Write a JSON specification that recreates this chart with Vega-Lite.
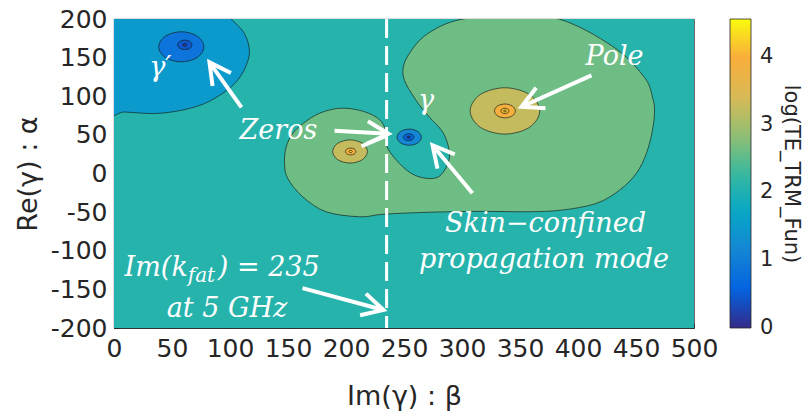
{
  "$schema": "https://vega.github.io/schema/vega-lite/v6.json",
  "width": 580,
  "height": 309,
  "autosize": "none",
  "padding": {"left": 114, "top": 19, "right": 115, "bottom": 86},
  "background": "white",
  "config": {
    "locale": {"number": {"decimal": ".", "thousands": ",", "grouping": [3], "currency": ["$", ""], "minus": "-"}},
    "view": {"stroke": "#262626", "strokeWidth": 0.8},
    "axis": {
      "labelFont": "DejaVu Sans",
      "labelFontSize": 25,
      "labelColor": "#262626",
      "titleFont": "DejaVu Sans",
      "titleFontSize": 27,
      "titleFontWeight": "normal",
      "titleColor": "#262626",
      "domainColor": "#262626",
      "domainWidth": 0.8,
      "tickColor": "#262626",
      "tickSize": -5,
      "tickWidth": 0.8,
      "gridColor": "#202020",
      "gridOpacity": 0.15,
      "gridWidth": 0.8,
      "labelFlush": false,
      "labelOverlap": false,
      "zindex": 1
    },
    "axisX": {"labelPadding": 13, "titlePadding": 22},
    "axisY": {"labelPadding": 12, "titlePadding": 8}
  },
  "datasets": {
    "plane": [{"x": 0, "x2": 500, "y": -200, "y2": 200, "level": 2.08}],
    "contours": [
      {"shape": "ul", "tier": 1, "level": 1.48, "i": 0, "x": -15, "y": 80.5},
      {"shape": "ul", "tier": 1, "level": 1.48, "i": 1, "x": 9.1, "y": 79.6},
      {"shape": "ul", "tier": 1, "level": 1.48, "i": 2, "x": 34.9, "y": 77.6},
      {"shape": "ul", "tier": 1, "level": 1.48, "i": 3, "x": 57.9, "y": 81.8},
      {"shape": "ul", "tier": 1, "level": 1.48, "i": 4, "x": 78, "y": 90.5},
      {"shape": "ul", "tier": 1, "level": 1.48, "i": 5, "x": 95.3, "y": 105.5},
      {"shape": "ul", "tier": 1, "level": 1.48, "i": 6, "x": 106.5, "y": 120.6},
      {"shape": "ul", "tier": 1, "level": 1.48, "i": 7, "x": 114, "y": 140},
      {"shape": "ul", "tier": 1, "level": 1.48, "i": 8, "x": 116.8, "y": 159.5},
      {"shape": "ul", "tier": 1, "level": 1.48, "i": 9, "x": 112.5, "y": 181},
      {"shape": "ul", "tier": 1, "level": 1.48, "i": 10, "x": 103.9, "y": 195.6},
      {"shape": "ul", "tier": 1, "level": 1.48, "i": 11, "x": 95.3, "y": 204.7},
      {"shape": "ul", "tier": 1, "level": 1.48, "i": 12, "x": 60, "y": 225},
      {"shape": "ul", "tier": 1, "level": 1.48, "i": 13, "x": -15, "y": 225},

      {"shape": "gr", "tier": 1, "level": 2.62, "i": 1, "x": 162.8, "y": 64.6},
      {"shape": "gr", "tier": 1, "level": 2.62, "i": 2, "x": 177.2, "y": 78},
      {"shape": "gr", "tier": 1, "level": 2.62, "i": 3, "x": 194.4, "y": 84.4},
      {"shape": "gr", "tier": 1, "level": 2.62, "i": 4, "x": 211.6, "y": 81.8},
      {"shape": "gr", "tier": 1, "level": 2.62, "i": 5, "x": 226.3, "y": 72.8},
      {"shape": "gr", "tier": 1, "level": 2.62, "i": 6, "x": 233.5, "y": 59},
      {"shape": "gr", "tier": 1, "level": 2.62, "i": 7, "x": 235, "y": 36},
      {"shape": "gr", "tier": 1, "level": 2.62, "i": 8, "x": 243.5, "y": 17.2},
      {"shape": "gr", "tier": 1, "level": 2.62, "i": 9, "x": 254.7, "y": 1.7},
      {"shape": "gr", "tier": 1, "level": 2.62, "i": 10, "x": 266, "y": -5.5},
      {"shape": "gr", "tier": 1, "level": 2.62, "i": 11, "x": 278, "y": -5.5},
      {"shape": "gr", "tier": 1, "level": 2.62, "i": 12, "x": 285, "y": 4.3},
      {"shape": "gr", "tier": 1, "level": 2.62, "i": 13, "x": 289.2, "y": 21.1},
      {"shape": "gr", "tier": 1, "level": 2.62, "i": 14, "x": 287.5, "y": 39.2},
      {"shape": "gr", "tier": 1, "level": 2.62, "i": 15, "x": 282.3, "y": 56},
      {"shape": "gr", "tier": 1, "level": 2.62, "i": 16, "x": 272, "y": 72.8},
      {"shape": "gr", "tier": 1, "level": 2.62, "i": 17, "x": 263.4, "y": 88.3},
      {"shape": "gr", "tier": 1, "level": 2.62, "i": 18, "x": 256.5, "y": 103.8},
      {"shape": "gr", "tier": 1, "level": 2.62, "i": 19, "x": 251.5, "y": 116.7},
      {"shape": "gr", "tier": 1, "level": 2.62, "i": 20, "x": 249, "y": 131.3},
      {"shape": "gr", "tier": 1, "level": 2.62, "i": 21, "x": 252, "y": 148.7},
      {"shape": "gr", "tier": 1, "level": 2.62, "i": 22, "x": 263.4, "y": 172.3},
      {"shape": "gr", "tier": 1, "level": 2.62, "i": 23, "x": 277.8, "y": 187.8},
      {"shape": "gr", "tier": 1, "level": 2.62, "i": 24, "x": 295, "y": 198},
      {"shape": "gr", "tier": 1, "level": 2.62, "i": 25, "x": 320, "y": 204},
      {"shape": "gr", "tier": 1, "level": 2.62, "i": 26, "x": 350, "y": 205},
      {"shape": "gr", "tier": 1, "level": 2.62, "i": 27, "x": 378, "y": 202},
      {"shape": "gr", "tier": 1, "level": 2.62, "i": 28, "x": 401.3, "y": 189.5},
      {"shape": "gr", "tier": 1, "level": 2.62, "i": 29, "x": 424.6, "y": 169.7},
      {"shape": "gr", "tier": 1, "level": 2.62, "i": 30, "x": 441.8, "y": 150.4},
      {"shape": "gr", "tier": 1, "level": 2.62, "i": 31, "x": 459, "y": 120.6},
      {"shape": "gr", "tier": 1, "level": 2.62, "i": 32, "x": 464.2, "y": 98.6},
      {"shape": "gr", "tier": 1, "level": 2.62, "i": 33, "x": 466, "y": 81.8},
      {"shape": "gr", "tier": 1, "level": 2.62, "i": 34, "x": 464.2, "y": 56},
      {"shape": "gr", "tier": 1, "level": 2.62, "i": 35, "x": 459, "y": 26.2},
      {"shape": "gr", "tier": 1, "level": 2.62, "i": 36, "x": 450.3, "y": 0.2},
      {"shape": "gr", "tier": 1, "level": 2.62, "i": 37, "x": 435.8, "y": -21.6},
      {"shape": "gr", "tier": 1, "level": 2.62, "i": 38, "x": 415.8, "y": -38.7},
      {"shape": "gr", "tier": 1, "level": 2.62, "i": 39, "x": 387, "y": -47.2},
      {"shape": "gr", "tier": 1, "level": 2.62, "i": 40, "x": 358, "y": -49.5},
      {"shape": "gr", "tier": 1, "level": 2.62, "i": 41, "x": 320, "y": -49},
      {"shape": "gr", "tier": 1, "level": 2.62, "i": 42, "x": 286.4, "y": -49.6},
      {"shape": "gr", "tier": 1, "level": 2.62, "i": 43, "x": 255, "y": -51},
      {"shape": "gr", "tier": 1, "level": 2.62, "i": 44, "x": 230, "y": -53},
      {"shape": "gr", "tier": 1, "level": 2.62, "i": 45, "x": 211.6, "y": -56},
      {"shape": "gr", "tier": 1, "level": 2.62, "i": 46, "x": 182.9, "y": -49.6},
      {"shape": "gr", "tier": 1, "level": 2.62, "i": 47, "x": 162.8, "y": -30.3},
      {"shape": "gr", "tier": 1, "level": 2.62, "i": 48, "x": 149.8, "y": -6.5},
      {"shape": "gr", "tier": 1, "level": 2.62, "i": 49, "x": 147, "y": 12.9},
      {"shape": "gr", "tier": 1, "level": 2.62, "i": 50, "x": 148.4, "y": 34.4},
      {"shape": "gr", "tier": 1, "level": 2.62, "i": 51, "x": 154.1, "y": 51.7},

      {"shape": "gp_outer", "tier": 2, "level": 0.86, "i": 0, "x": 77.5, "y": 164},
      {"shape": "gp_outer", "tier": 2, "level": 0.86, "i": 1, "x": 71.79, "y": 177.79},
      {"shape": "gp_outer", "tier": 2, "level": 0.86, "i": 2, "x": 58, "y": 183.5},
      {"shape": "gp_outer", "tier": 2, "level": 0.86, "i": 3, "x": 44.21, "y": 177.79},
      {"shape": "gp_outer", "tier": 2, "level": 0.86, "i": 4, "x": 38.5, "y": 164},
      {"shape": "gp_outer", "tier": 2, "level": 0.86, "i": 5, "x": 44.21, "y": 150.21},
      {"shape": "gp_outer", "tier": 2, "level": 0.86, "i": 6, "x": 58, "y": 144.5},
      {"shape": "gp_outer", "tier": 2, "level": 0.86, "i": 7, "x": 71.79, "y": 150.21},

      {"shape": "g_outer", "tier": 2, "level": 1.15, "i": 0, "x": 265, "y": 47},
      {"shape": "g_outer", "tier": 2, "level": 1.15, "i": 1, "x": 261.92, "y": 54.42},
      {"shape": "g_outer", "tier": 2, "level": 1.15, "i": 2, "x": 254.5, "y": 57.5},
      {"shape": "g_outer", "tier": 2, "level": 1.15, "i": 3, "x": 247.08, "y": 54.42},
      {"shape": "g_outer", "tier": 2, "level": 1.15, "i": 4, "x": 244, "y": 47},
      {"shape": "g_outer", "tier": 2, "level": 1.15, "i": 5, "x": 247.08, "y": 39.58},
      {"shape": "g_outer", "tier": 2, "level": 1.15, "i": 6, "x": 254.5, "y": 36.5},
      {"shape": "g_outer", "tier": 2, "level": 1.15, "i": 7, "x": 261.92, "y": 39.58},

      {"shape": "m_outer", "tier": 2, "level": 3.25, "i": 0, "x": 218.5, "y": 28.5},
      {"shape": "m_outer", "tier": 2, "level": 3.25, "i": 1, "x": 214.11, "y": 39.11},
      {"shape": "m_outer", "tier": 2, "level": 3.25, "i": 2, "x": 203.5, "y": 43.5},
      {"shape": "m_outer", "tier": 2, "level": 3.25, "i": 3, "x": 192.89, "y": 39.11},
      {"shape": "m_outer", "tier": 2, "level": 3.25, "i": 4, "x": 188.5, "y": 28.5},
      {"shape": "m_outer", "tier": 2, "level": 3.25, "i": 5, "x": 192.89, "y": 17.89},
      {"shape": "m_outer", "tier": 2, "level": 3.25, "i": 6, "x": 203.5, "y": 13.5},
      {"shape": "m_outer", "tier": 2, "level": 3.25, "i": 7, "x": 214.11, "y": 17.89},

      {"shape": "p_outer", "tier": 2, "level": 3.25, "i": 0, "x": 367, "y": 81},
      {"shape": "p_outer", "tier": 2, "level": 3.25, "i": 1, "x": 358.21, "y": 102.21},
      {"shape": "p_outer", "tier": 2, "level": 3.25, "i": 2, "x": 337, "y": 111},
      {"shape": "p_outer", "tier": 2, "level": 3.25, "i": 3, "x": 315.79, "y": 102.21},
      {"shape": "p_outer", "tier": 2, "level": 3.25, "i": 4, "x": 307, "y": 81},
      {"shape": "p_outer", "tier": 2, "level": 3.25, "i": 5, "x": 315.79, "y": 59.79},
      {"shape": "p_outer", "tier": 2, "level": 3.25, "i": 6, "x": 337, "y": 51},
      {"shape": "p_outer", "tier": 2, "level": 3.25, "i": 7, "x": 358.21, "y": 59.79},

      {"shape": "gp_inner", "tier": 3, "level": 0.45, "i": 0, "x": 67.2, "y": 166.5},
      {"shape": "gp_inner", "tier": 3, "level": 0.45, "i": 1, "x": 65.38, "y": 170.88},
      {"shape": "gp_inner", "tier": 3, "level": 0.45, "i": 2, "x": 61, "y": 172.7},
      {"shape": "gp_inner", "tier": 3, "level": 0.45, "i": 3, "x": 56.62, "y": 170.88},
      {"shape": "gp_inner", "tier": 3, "level": 0.45, "i": 4, "x": 54.8, "y": 166.5},
      {"shape": "gp_inner", "tier": 3, "level": 0.45, "i": 5, "x": 56.62, "y": 162.12},
      {"shape": "gp_inner", "tier": 3, "level": 0.45, "i": 6, "x": 61, "y": 160.3},
      {"shape": "gp_inner", "tier": 3, "level": 0.45, "i": 7, "x": 65.38, "y": 162.12},

      {"shape": "g_inner", "tier": 3, "level": 0.6, "i": 0, "x": 258.5, "y": 47},
      {"shape": "g_inner", "tier": 3, "level": 0.6, "i": 1, "x": 257.18, "y": 50.18},
      {"shape": "g_inner", "tier": 3, "level": 0.6, "i": 2, "x": 254, "y": 51.5},
      {"shape": "g_inner", "tier": 3, "level": 0.6, "i": 3, "x": 250.82, "y": 50.18},
      {"shape": "g_inner", "tier": 3, "level": 0.6, "i": 4, "x": 249.5, "y": 47},
      {"shape": "g_inner", "tier": 3, "level": 0.6, "i": 5, "x": 250.82, "y": 43.82},
      {"shape": "g_inner", "tier": 3, "level": 0.6, "i": 6, "x": 254, "y": 42.5},
      {"shape": "g_inner", "tier": 3, "level": 0.6, "i": 7, "x": 257.18, "y": 43.82},

      {"shape": "m_inner", "tier": 3, "level": 3.95, "i": 0, "x": 208.5, "y": 28.5},
      {"shape": "m_inner", "tier": 3, "level": 3.95, "i": 1, "x": 207.18, "y": 31.68},
      {"shape": "m_inner", "tier": 3, "level": 3.95, "i": 2, "x": 204, "y": 33},
      {"shape": "m_inner", "tier": 3, "level": 3.95, "i": 3, "x": 200.82, "y": 31.68},
      {"shape": "m_inner", "tier": 3, "level": 3.95, "i": 4, "x": 199.5, "y": 28.5},
      {"shape": "m_inner", "tier": 3, "level": 3.95, "i": 5, "x": 200.82, "y": 25.32},
      {"shape": "m_inner", "tier": 3, "level": 3.95, "i": 6, "x": 204, "y": 24},
      {"shape": "m_inner", "tier": 3, "level": 3.95, "i": 7, "x": 207.18, "y": 25.32},

      {"shape": "p_inner", "tier": 3, "level": 3.95, "i": 0, "x": 346, "y": 81},
      {"shape": "p_inner", "tier": 3, "level": 3.95, "i": 1, "x": 343.36, "y": 87.36},
      {"shape": "p_inner", "tier": 3, "level": 3.95, "i": 2, "x": 337, "y": 90},
      {"shape": "p_inner", "tier": 3, "level": 3.95, "i": 3, "x": 330.64, "y": 87.36},
      {"shape": "p_inner", "tier": 3, "level": 3.95, "i": 4, "x": 328, "y": 81},
      {"shape": "p_inner", "tier": 3, "level": 3.95, "i": 5, "x": 330.64, "y": 74.64},
      {"shape": "p_inner", "tier": 3, "level": 3.95, "i": 6, "x": 337, "y": 72},
      {"shape": "p_inner", "tier": 3, "level": 3.95, "i": 7, "x": 343.36, "y": 74.64},

      {"shape": "gp_core", "tier": 4, "level": 0.15, "i": 0, "x": 62.8, "y": 166.5},
      {"shape": "gp_core", "tier": 4, "level": 0.15, "i": 1, "x": 62.27, "y": 167.77},
      {"shape": "gp_core", "tier": 4, "level": 0.15, "i": 2, "x": 61, "y": 168.3},
      {"shape": "gp_core", "tier": 4, "level": 0.15, "i": 3, "x": 59.73, "y": 167.77},
      {"shape": "gp_core", "tier": 4, "level": 0.15, "i": 4, "x": 59.2, "y": 166.5},
      {"shape": "gp_core", "tier": 4, "level": 0.15, "i": 5, "x": 59.73, "y": 165.23},
      {"shape": "gp_core", "tier": 4, "level": 0.15, "i": 6, "x": 61, "y": 164.7},
      {"shape": "gp_core", "tier": 4, "level": 0.15, "i": 7, "x": 62.27, "y": 165.23},

      {"shape": "g_core", "tier": 4, "level": 0.2, "i": 0, "x": 255.5, "y": 47},
      {"shape": "g_core", "tier": 4, "level": 0.2, "i": 1, "x": 255.06, "y": 48.06},
      {"shape": "g_core", "tier": 4, "level": 0.2, "i": 2, "x": 254, "y": 48.5},
      {"shape": "g_core", "tier": 4, "level": 0.2, "i": 3, "x": 252.94, "y": 48.06},
      {"shape": "g_core", "tier": 4, "level": 0.2, "i": 4, "x": 252.5, "y": 47},
      {"shape": "g_core", "tier": 4, "level": 0.2, "i": 5, "x": 252.94, "y": 45.94},
      {"shape": "g_core", "tier": 4, "level": 0.2, "i": 6, "x": 254, "y": 45.5},
      {"shape": "g_core", "tier": 4, "level": 0.2, "i": 7, "x": 255.06, "y": 45.94},

      {"shape": "m_core", "tier": 4, "level": 4.2, "i": 0, "x": 205.5, "y": 28.5},
      {"shape": "m_core", "tier": 4, "level": 4.2, "i": 1, "x": 205.06, "y": 29.56},
      {"shape": "m_core", "tier": 4, "level": 4.2, "i": 2, "x": 204, "y": 30},
      {"shape": "m_core", "tier": 4, "level": 4.2, "i": 3, "x": 202.94, "y": 29.56},
      {"shape": "m_core", "tier": 4, "level": 4.2, "i": 4, "x": 202.5, "y": 28.5},
      {"shape": "m_core", "tier": 4, "level": 4.2, "i": 5, "x": 202.94, "y": 27.44},
      {"shape": "m_core", "tier": 4, "level": 4.2, "i": 6, "x": 204, "y": 27},
      {"shape": "m_core", "tier": 4, "level": 4.2, "i": 7, "x": 205.06, "y": 27.44},

      {"shape": "p_core", "tier": 4, "level": 4.1, "i": 0, "x": 340.5, "y": 81},
      {"shape": "p_core", "tier": 4, "level": 4.1, "i": 1, "x": 339.47, "y": 83.47},
      {"shape": "p_core", "tier": 4, "level": 4.1, "i": 2, "x": 337, "y": 84.5},
      {"shape": "p_core", "tier": 4, "level": 4.1, "i": 3, "x": 334.53, "y": 83.47},
      {"shape": "p_core", "tier": 4, "level": 4.1, "i": 4, "x": 333.5, "y": 81},
      {"shape": "p_core", "tier": 4, "level": 4.1, "i": 5, "x": 334.53, "y": 78.53},
      {"shape": "p_core", "tier": 4, "level": 4.1, "i": 6, "x": 337, "y": 77.5},
      {"shape": "p_core", "tier": 4, "level": 4.1, "i": 7, "x": 339.47, "y": 78.53},

      {"shape": "p_peak", "tier": 5, "level": 4.35, "i": 0, "x": 338.2, "y": 81},
      {"shape": "p_peak", "tier": 5, "level": 4.35, "i": 1, "x": 337.85, "y": 81.85},
      {"shape": "p_peak", "tier": 5, "level": 4.35, "i": 2, "x": 337, "y": 82.2},
      {"shape": "p_peak", "tier": 5, "level": 4.35, "i": 3, "x": 336.15, "y": 81.85},
      {"shape": "p_peak", "tier": 5, "level": 4.35, "i": 4, "x": 335.8, "y": 81},
      {"shape": "p_peak", "tier": 5, "level": 4.35, "i": 5, "x": 336.15, "y": 80.15},
      {"shape": "p_peak", "tier": 5, "level": 4.35, "i": 6, "x": 337, "y": 79.8},
      {"shape": "p_peak", "tier": 5, "level": 4.35, "i": 7, "x": 337.85, "y": 80.15}
    ],
    "arrows": [
      {"arrow": "zero_gp", "x": 109.9, "y": 85.7, "x2": 82.3, "y2": 143.9, "angle": -35.4},
      {"arrow": "zero_g", "x": 190.1, "y": 55.3, "x2": 236.6, "y2": 51.5, "angle": 93.2},
      {"arrow": "zero_g_lower", "x": 213.4, "y": 35.3, "x2": 234.9, "y2": 48.9, "angle": null},
      {"arrow": "pole", "x": 411.6, "y": 127.1, "x2": 351.3, "y2": 86.4, "angle": -114.2},
      {"arrow": "skin", "x": 309, "y": -25.5, "x2": 274.6, "y2": 36.6, "angle": -39.8},
      {"arrow": "kfat", "x": 162.5, "y": -148.3, "x2": 232.3, "y2": -176.7, "angle": 105.2}
    ],
    "notes": [
      {"part": "center", "text": "Zeros", "x": 141.8, "y": 45.2},
      {"part": "center", "text": "Pole", "x": 431.5, "y": 140.9},
      {"part": "center", "text": "γ′", "x": 39.9, "y": 125.8},
      {"part": "center", "text": "γ", "x": 269, "y": 83.1},
      {"part": "center", "text": "Skin−confined", "x": 372, "y": -75.5},
      {"part": "center", "text": "propagation mode", "x": 370.7, "y": -122.8},
      {"part": "center", "text": "at 5 GHz", "x": 97.4, "y": -185.4},
      {"part": "before", "text": "Im(k", "x": 63.6, "y": -132.8},
      {"part": "sub", "text": "fat", "x": 63.6, "y": -140.1},
      {"part": "after", "text": ") = 235", "x": 89.5, "y": -132.8}
    ]
  },
  "layer": [
    {
      "data": {"name": "plane"},
      "mark": {"type": "rect"},
      "encoding": {
        "x": {
          "field": "x", "type": "quantitative",
          "scale": {"domain": [0, 500], "nice": false, "zero": false},
          "axis": {"values": [0, 50, 100, 150, 200, 250, 300, 350, 400, 450, 500], "tickCount": 11, "title": "Im(γ) : β", "grid": true, "labelOverlap": false}
        },
        "x2": {"field": "x2"},
        "y": {
          "field": "y", "type": "quantitative",
          "scale": {"domain": [-200, 200], "nice": false, "zero": false},
          "axis": {"values": [-200, -150, -100, -50, 0, 50, 100, 150, 200], "tickCount": 9, "title": "Re(γ) : α", "grid": true, "labelOverlap": false, "format": "d"}
        },
        "y2": {"field": "y2"},
        "fill": {
          "field": "level", "type": "quantitative",
          "scale": {
            "domain": [0, 0.57, 1.14, 1.71, 2.28, 2.85, 3.42, 3.99, 4.56],
            "range": ["#352a87", "#0363e1", "#1485d4", "#06a7c6", "#38b99e", "#92bf73", "#d9ba56", "#f9ad3b", "#f9fb0e"],
            "interpolate": "rgb"
          },
          "legend": {
            "title": "log(TE_TRM_Fun)",
            "orient": "none", "legendX": 616, "legendY": 0,
            "direction": "vertical", "gradientLength": 309, "gradientThickness": 21,
            "values": [0, 1, 2, 3, 4],
            "labelFont": "DejaVu Sans", "labelFontSize": 21, "labelColor": "#262626", "labelOffset": 9,
            "labelOverlap": false,
            "titleFont": "DejaVu Sans", "titleFontSize": 21, "titleFontWeight": "normal", "titleColor": "#262626",
            "titleOrient": "right", "titleAngle": 270, "titleAnchor": "middle", "titlePadding": 8,
            "gradientStrokeColor": "#262626", "gradientStrokeWidth": 0.8, "padding": 0,
            "encode": {"labels": {"update": {"baseline": {"value": "middle"}}}}
          }
        }
      }
    },
    {
      "data": {"name": "contours"},
      "encoding": {
        "x": {"field": "x", "type": "quantitative"},
        "y": {"field": "y", "type": "quantitative"},
        "order": {"field": "i", "type": "quantitative"},
        "detail": {"field": "shape", "type": "nominal"},
        "fill": {"field": "level", "type": "quantitative"}
      },
      "layer": [
        {"transform": [{"filter": "datum.tier == 1"}], "mark": {"type": "line", "interpolate": "cardinal-closed", "tension": 0, "stroke": "#13211a", "strokeWidth": 0.8, "strokeOpacity": 0.85, "clip": true}},
        {"transform": [{"filter": "datum.tier == 2"}], "mark": {"type": "line", "interpolate": "cardinal-closed", "tension": 0, "stroke": "#13211a", "strokeWidth": 0.8, "strokeOpacity": 0.85, "clip": true}},
        {"transform": [{"filter": "datum.tier == 3"}], "mark": {"type": "line", "interpolate": "cardinal-closed", "tension": 0, "stroke": "#13211a", "strokeWidth": 0.8, "strokeOpacity": 0.85, "clip": true}},
        {"transform": [{"filter": "datum.tier == 4"}], "mark": {"type": "line", "interpolate": "cardinal-closed", "tension": 0, "stroke": "#13211a", "strokeWidth": 0.8, "strokeOpacity": 0.85, "clip": true}},
        {"transform": [{"filter": "datum.tier == 5"}], "mark": {"type": "line", "interpolate": "cardinal-closed", "tension": 0, "stroke": "#13211a", "strokeWidth": 0.8, "strokeOpacity": 0.85, "clip": true}}
      ]
    },
    {
      "data": {"values": [{"x": 235}]},
      "mark": {"type": "rule", "stroke": "white", "strokeWidth": 3, "strokeDash": [19, 8]},
      "encoding": {"x": {"field": "x", "type": "quantitative"}}
    },
    {
      "data": {"name": "arrows"},
      "mark": {"type": "rule", "stroke": "white", "strokeWidth": 4, "strokeCap": "butt"},
      "encoding": {
        "x": {"field": "x", "type": "quantitative"},
        "y": {"field": "y", "type": "quantitative"},
        "x2": {"field": "x2"},
        "y2": {"field": "y2"}
      }
    },
    {
      "data": {"name": "arrows"},
      "transform": [{"filter": "isValid(datum.angle)"}],
      "mark": {"type": "point", "shape": "M -0.469 0.883 L 0 0 L 0.469 0.883", "filled": false, "stroke": "white", "strokeWidth": 4, "strokeJoin": "miter", "strokeOpacity": 1, "opacity": 1, "size": 2300},
      "encoding": {
        "x": {"field": "x2", "type": "quantitative"},
        "y": {"field": "y2", "type": "quantitative"},
        "angle": {"field": "angle", "type": "quantitative", "scale": null}
      }
    },
    {
      "data": {"name": "notes"},
      "transform": [{"filter": "datum.part == 'center'"}],
      "mark": {"type": "text", "font": "DejaVu Serif", "fontStyle": "italic", "fontSize": 27, "fill": "white", "align": "center", "baseline": "alphabetic"},
      "encoding": {
        "x": {"field": "x", "type": "quantitative"},
        "y": {"field": "y", "type": "quantitative"},
        "text": {"field": "text"}
      }
    },
    {
      "data": {"name": "notes"},
      "transform": [{"filter": "datum.part == 'before'"}],
      "mark": {"type": "text", "font": "DejaVu Serif", "fontStyle": "italic", "fontSize": 27, "fill": "white", "align": "right", "baseline": "alphabetic"},
      "encoding": {
        "x": {"field": "x", "type": "quantitative"},
        "y": {"field": "y", "type": "quantitative"},
        "text": {"field": "text"}
      }
    },
    {
      "data": {"name": "notes"},
      "transform": [{"filter": "datum.part == 'sub'"}],
      "mark": {"type": "text", "font": "DejaVu Serif", "fontStyle": "italic", "fontSize": 20, "fill": "white", "align": "left", "baseline": "alphabetic"},
      "encoding": {
        "x": {"field": "x", "type": "quantitative"},
        "y": {"field": "y", "type": "quantitative"},
        "text": {"field": "text"}
      }
    },
    {
      "data": {"name": "notes"},
      "transform": [{"filter": "datum.part == 'after'"}],
      "mark": {"type": "text", "font": "DejaVu Serif", "fontStyle": "italic", "fontSize": 27, "fill": "white", "align": "left", "baseline": "alphabetic"},
      "encoding": {
        "x": {"field": "x", "type": "quantitative"},
        "y": {"field": "y", "type": "quantitative"},
        "text": {"field": "text"}
      }
    }
  ]
}
